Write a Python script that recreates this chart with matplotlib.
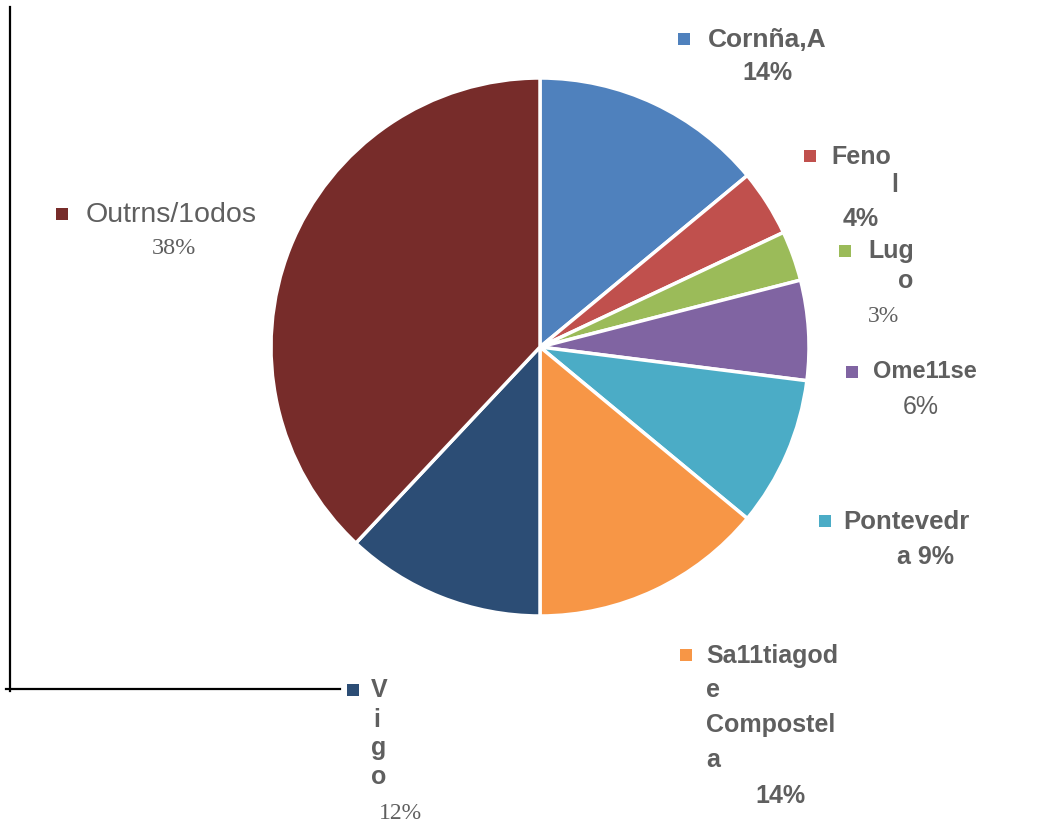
"""Pie chart of shares by province/city (recreated)."""

import matplotlib

matplotlib.use("Agg")
import matplotlib.pyplot as plt  # noqa: E402
from matplotlib.patches import Rectangle  # noqa: E402

# data, clockwise from 12 o'clock
names = ["Cornña,A", "Fenol", "Lugo", "Ome11se", "Pontevedra",
         "Sa11tiagode Compostela", "Vigo", "Outrns/1odos"]
shares = [14, 4, 3, 6, 9, 14, 12, 38]
colors = ["#4F81BD", "#C0504D", "#9BBB59", "#8064A2", "#4BACC6",
          "#F79646", "#2C4D75", "#772C2A"]

# label lines as they appear in the source (broken across lines)
label_lines = [
    ["Cornña,A", "14%"],
    ["Feno", "l", "4%"],
    ["Lug", "o", "3%"],
    ["Ome11se", "6%"],
    ["Pontevedr", "a 9%"],
    ["Sa11tiagod", "e", "Compostel", "a", "14%"],
    ["V", "i", "g", "o", "12%"],
    ["Outrns/1odos", "38%"],
]

W, H = 1062, 828
TXT = "#5f5f5f"

fig = plt.figure(figsize=(W / 100, H / 100), dpi=100)
ax = fig.add_axes([0, 0, 1, 1])


def Y(py):
    # pixel row (top-down) -> data y
    return H - py


ax.pie(shares, colors=colors, startangle=90, counterclock=False,
       center=(540, Y(348)), radius=269, frame=True,
       wedgeprops=dict(edgecolor="white", linewidth=2.5))
ax.set_xlim(0, W)
ax.set_ylim(0, H)
ax.set_aspect("equal")
ax.axis("off")

# stray axis lines from the original
ax.plot([10, 10], [Y(8), Y(692)], color="black", lw=1.6)
ax.plot([6, 340], [Y(690), Y(690)], color="black", lw=1.6)

# layout of each text line: (x, y_px, ha, style, size)
B, R, S = "bold", "reg", "serif"
layout = [
    [(708, 40, "left", B, 19), (767, 73, "center", B, 18)],
    [(831, 157, "left", B, 18), (895, 185, "center", B, 18),
     (861, 219, "center", B, 18)],
    [(868, 251, "left", B, 18), (906, 281, "center", B, 18),
     (883, 317, "center", S, 17)],
    [(873, 372, "left", B, 17), (921, 407, "center", R, 18)],
    [(843, 522, "left", B, 18.5), (925, 557, "center", B, 18)],
    [(706, 656, "left", B, 18), (706, 690, "left", B, 18),
     (706, 725, "left", B, 18), (706, 760, "left", B, 18),
     (780, 796, "center", B, 18)],
    [(371, 690, "left", B, 18), (373, 720, "left", B, 18),
     (371, 748, "left", B, 18), (371, 777, "left", B, 18),
     (400, 814, "center", S, 17)],
    [(86, 215, "left", R, 20.5), (174, 249, "center", S, 17.5)],
]
markers = [(684, 40), (810, 157), (845, 252), (852, 373),
           (825, 522), (686, 656), (353, 691), (62, 215)]

for lines, pos, col, (mx, my) in zip(label_lines, layout, colors, markers):
    ax.add_patch(Rectangle((mx - 6, Y(my) - 6), 12, 12, color=col, lw=0))
    for txt, (x, y, ha, style, size) in zip(lines, pos):
        if style == S:
            kw = dict(family="Liberation Serif")
        elif style == R:
            kw = dict(family="Liberation Sans")
        else:
            kw = dict(family="Liberation Sans", fontweight="bold")
        ax.text(x, Y(y), txt, ha=ha, va="center", color=TXT,
                fontsize=size, **kw)

fig.savefig("out.png", dpi=100)
